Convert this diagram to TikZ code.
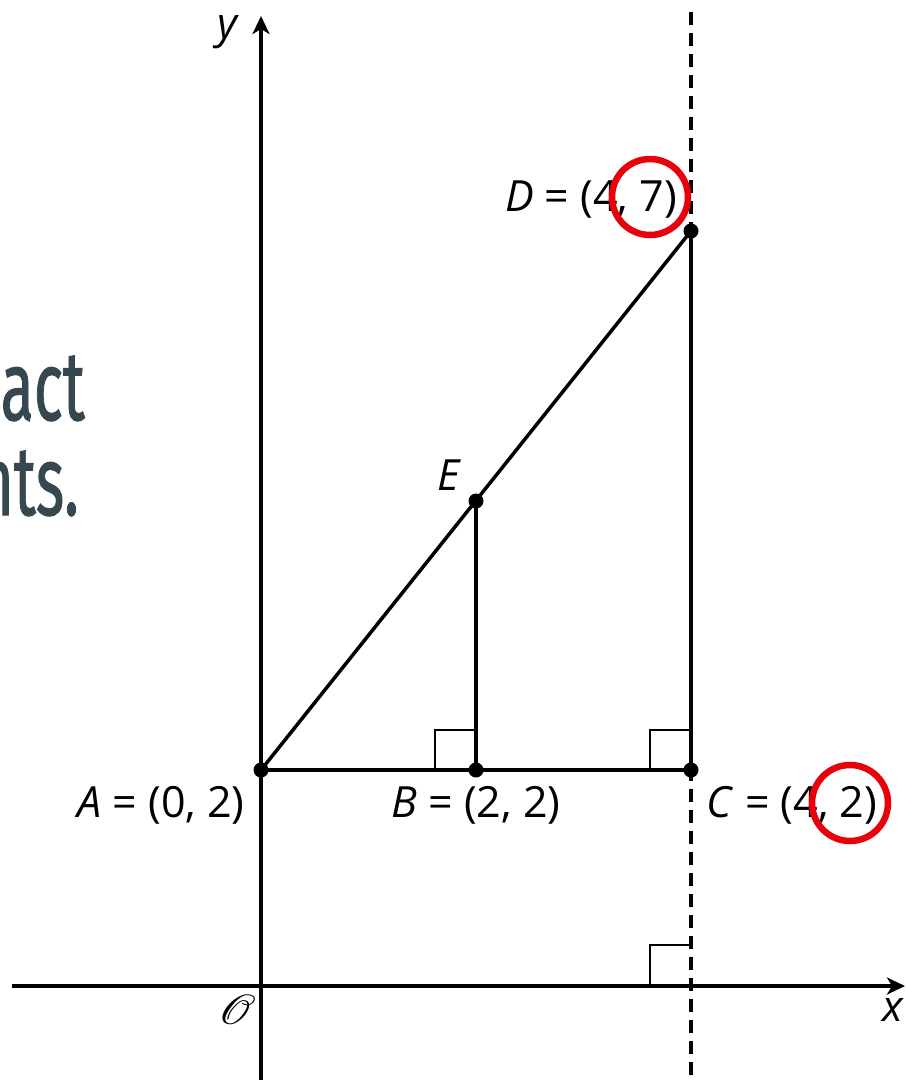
\documentclass[tikz,border=0pt]{standalone}
\usepackage{fontspec}
\setmainfont{Open Sans}
\newfontfamily\headfont[FakeBold=1.2]{Fira Sans}
\usepackage{mathrsfs}
\usetikzlibrary{arrows.meta}
\definecolor{slate}{HTML}{37474F}
\definecolor{mark}{HTML}{E8000B}
\begin{document}
\begin{tikzpicture}[x=1pt,y=-1pt,
  axis/.style={line width=3.5pt,-{Stealth[length=18pt,width=17pt,inset=5pt]}},
  seg/.style={line width=3.5pt},
  ra/.style={line width=1.8pt},
  guide/.style={line width=3.5pt,dash pattern=on 13pt off 8pt},
  dot/.style={circle,fill=black,inner sep=0pt,minimum size=15pt},
  lab/.style={font=\fontsize{43}{50}\selectfont,inner sep=0pt},
  ring/.style={draw=mark,line width=6.5pt,circle,minimum size=76pt,inner sep=0pt},
  head/.style={font=\headfont\fontsize{98}{98}\selectfont,text=slate,inner sep=0pt,anchor=base east}]
\useasboundingbox (0,0) rectangle (906,1080);
\clip (0,0) rectangle (906,1080);
\fill[white] (0,0) rectangle (906,1080);
% heading fragment
\node[head] (h1) at (85,420) {\scalebox{0.62}[1]{act}};
\node[head] (h2) at (79,515) {\scalebox{0.62}[1]{nts.}};
% axes
\coordinate (xl) at (12,986);
\coordinate (xr) at (905,986);
\coordinate (yb) at (261,1082);
\coordinate (yt) at (261,16);
\coordinate (gt) at (691,12);
\coordinate (gb) at (691,1082);
\draw[guide] (gt) -- (gb);
\draw[axis] (xl) -- (xr);
\draw[axis] (yb) -- (yt);
% points
\node[dot] (A) at (261,770) {};
\node[dot] (B) at (476,770) {};
\node[dot] (C) at (691,770) {};
\node[dot] (D) at (691,231) {};
\node[dot] (E) at (476,501) {};
% right angle marks
\draw[ra] (435,770) |- (476,730);
\draw[ra] (650,770) |- (691,730);
\draw[ra] (650,986) |- (691,945);
% triangle
\draw[seg] (A.center) -- (C.center);
\draw[seg] (A.center) -- (D.center);
\draw[seg] (C.center) -- (D.center);
\draw[seg] (B.center) -- (E.center);
% labels
\node[lab] (lD) at (591,199) {\textit{D} = (4, 7)};
\node[lab] (lE) at (449,475) {\textit{E}};
\node[lab] (lA) at (161,805) {\textit{A} = (0, 2)};
\node[lab] (lB) at (476,805) {\textit{B} = (2, 2)};
\node[lab] (lC) at (792,805) {\textit{C} = (4, 2)};
\node[lab] (ly) at (228,32) {\textit{y}};
\node[lab] (lx) at (893,1010) {\textit{x}};
\node[inner sep=0pt] (O) at (237,1010) {\scalebox{4.6}[4.2]{$\mathscr{O}$}};
% highlight rings
\node[ring] (r1) at (650,197) {};
\node[ring] (r2) at (850,803) {};
\end{tikzpicture}
\end{document}
